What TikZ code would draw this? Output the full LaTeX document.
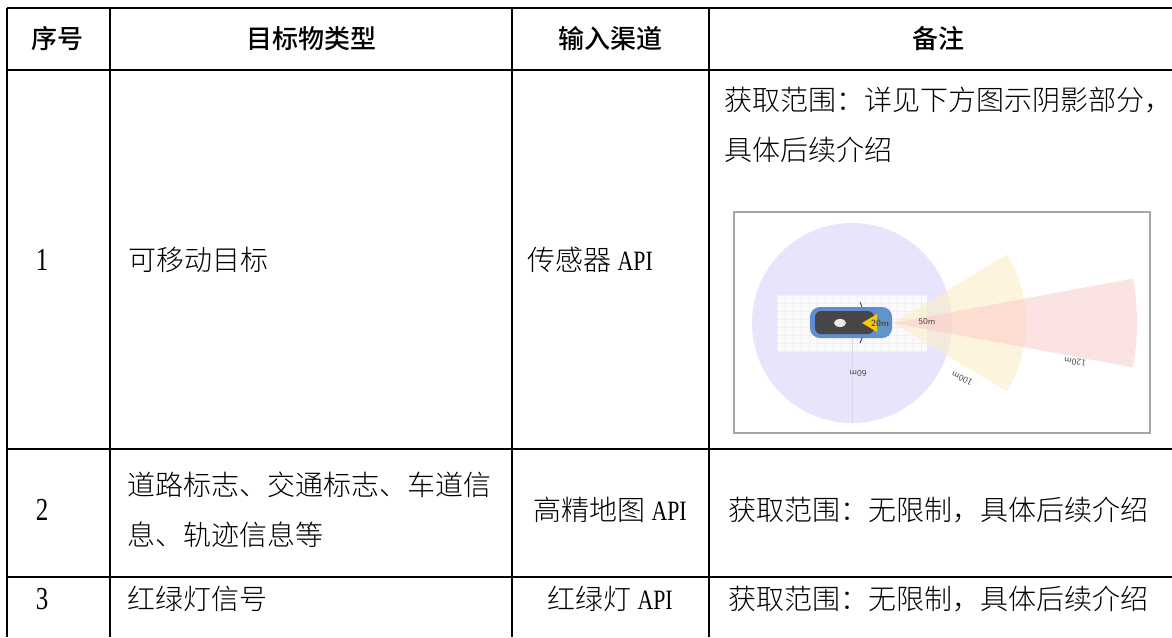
\documentclass[tikz,border=0pt]{standalone}
\usepackage{fontspec}
\setmainfont{Noto Sans CJK SC Light}
\newfontfamily\headfont{Noto Sans CJK SC Medium}
\newfontfamily\latin[FakeStretch=0.78]{Liberation Serif}
\newcommand{\api}{{\latin API}}

\definecolor{lavender}{RGB}{231,229,251}
\definecolor{cream}{RGB}{252,238,200}
\definecolor{rose}{RGB}{250,200,200}
\definecolor{carblue}{RGB}{96,140,210}

\begin{document}
\begin{tikzpicture}[x=0.5pt,y=-0.5pt,
  rule/.style={line width=1.2pt},
  head/.style={font=\fontsize{13}{13}\selectfont\headfont, inner sep=0pt},
  body/.style={font=\fontsize{14}{14}\selectfont, inner sep=0pt, anchor=west},
  mid/.style={font=\fontsize{14}{14}\selectfont, inner sep=0pt},
  num/.style={font=\fontsize{16}{16}\selectfont\latin, inner sep=0pt},
  tag/.style={font=\fontsize{4.5}{4.5}\selectfont\sffamily, text=black!70, inner sep=0pt}]

\useasboundingbox[fill=white] (0,0) rectangle (1172,637);

% table rules
\foreach \y in {8,70,449,577} \draw[rule] (7,\y) -- (1172,\y);
\foreach \x in {7,110,512,709} \draw[rule] (\x,8) -- (\x,637);

% header
\node[head] (hNo) at (58,39) {序号};
\node[head] (hType) at (311,39) {目标物类型};
\node[head] (hChan) at (610,39) {输入渠道};
\node[head] (hNote) at (938,39) {备注};

% row 1
\node[num] (noA) at (42,260) {1};
\node[body] (typeA) at (128,260) {可移动目标};
\node[body] (chanA) at (527,260) {传感器 \api};
\node[body] (noteA) at (724,100) {获取范围：详见下方图示阴影部分，};
\node[body] (noteAb) at (724,150) {具体后续介绍};

% row 2
\node[num] (noB) at (42,510) {2};
\node[body] (typeB) at (127,485) {道路标志、交通标志、车道信};
\node[body] (typeBb) at (127,535) {息、轨迹信息等};
\node[mid] (chanB) at (610,510) {高精地图 \api};
\node[mid] (noteB) at (938,510) {获取范围：无限制，具体后续介绍};

% row 3
\node[num] (noC) at (42,599) {3};
\node[body] (typeC) at (127,599) {红绿灯信号};
\node[mid] (chanC) at (610,599) {红绿灯 \api};
\node[mid] (noteC) at (938,599) {获取范围：无限制，具体后续介绍};

% sensor ranges
\fill[lavender] (852,323) circle (100);
\fill[gray!4] (777,295) rectangle (927,352);
\foreach \x in {777,785,...,927} \draw[gray!12, line width=0.2pt] (\x,295) -- (\x,352);
\foreach \y in {295,303,...,352} \draw[gray!12, line width=0.2pt] (777,\y) -- (927,\y);
\draw[gray!30, line width=0.3pt] (852,323) -- (852,423);
\fill[cream, opacity=0.6] (893,323) -- +(-31:133) arc[start angle=-31, end angle=31, radius=133] -- cycle;
\fill[rose, opacity=0.5] (893,323) -- +(-10.5:244) arc[start angle=-10.5, end angle=10.5, radius=244] -- cycle;

% car
\fill[carblue, rounded corners=5pt] (810,307) rectangle (892,338);
\fill[gray!55!black, rounded corners=3pt] (815,311) rectangle (874,334);
\fill[white!85!gray] (840,323) ellipse (6 and 4);
\fill[cyan!25!carblue] (877,310) rectangle (889,336);
\fill[yellow!60!orange] (862,323) -- (877,314) -- (877,332) -- cycle;
\draw[black!70, line width=0.5pt] (862,307) -- (860,302);
\draw[black!70, line width=0.5pt] (862,338) -- (860,343);

\node[tag, font=\fontsize{4.5}{4.5}\selectfont\sffamily\bfseries] (t20) at (880,323) {20m};
\node[tag] (t50) at (927,322) {50m};
\node[tag, rotate=180] (t60) at (858,373) {60m};
\node[tag, rotate=155] (t100) at (962,379) {100m};
\node[tag, rotate=172] (t120) at (1075,362) {120m};

\draw[gray!70, line width=0.9pt] (734,212) rectangle (1150,433);

\end{tikzpicture}
\end{document}
